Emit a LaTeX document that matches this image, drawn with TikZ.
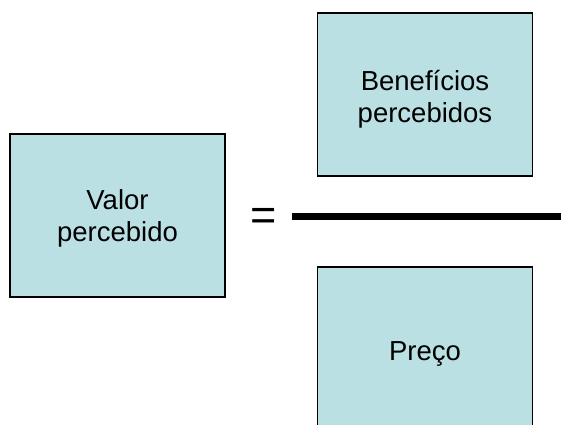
\documentclass[tikz,border=0pt]{standalone}
\usepackage{fontspec}
\setmainfont{Liberation Sans}
\definecolor{boxfill}{RGB}{187,224,227}
\begin{document}
\begin{tikzpicture}[x=1pt,y=-1pt,
  box/.style={draw=black, line width=1.5pt, fill=boxfill, minimum width=215pt, minimum height=163pt, inner sep=0pt},
  boxtext/.style={inner sep=0pt, align=center, font=\fontsize{27.5}{32}\selectfont},
  bar/.style={line width=7pt}]
\clip (0,0) rectangle (561,424);
\node[box] (valor) at (117.5,215.5) {};
\node[box] (benef) at (425,94.5) {};
\node[box] (preco) at (425,348.5) {};
\node[boxtext] (valort) at ([yshift=-3pt]valor.center) {Valor\\percebido};
\node[boxtext] (beneft) at ([yshift=-5pt]benef.center) {Benefícios\\percebidos};
\node[boxtext] (precot) at ([yshift=-5pt]preco.center) {Preço};
\node[inner sep=0pt, font=\fontsize{45}{54}\selectfont] (eq) at (264,219) {=};
\coordinate (barL) at (292,216.5);
\coordinate (barR) at (561,216.5);
\draw[bar] (barL) -- (barR);
\end{tikzpicture}
\end{document}
